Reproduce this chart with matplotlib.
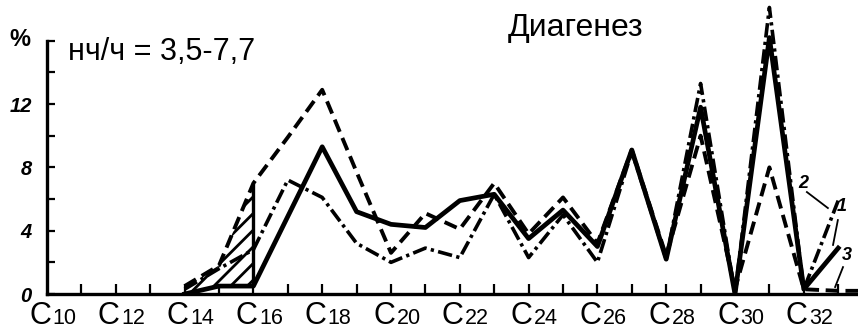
import matplotlib
matplotlib.use("Agg")
import matplotlib.pyplot as plt
import numpy as np

# ---- data ----
carbons = list(range(14, 34))            # C14 .. C33
solid_1 = [0.0, 0.5, 0.5, 4.9, 9.3, 5.2, 4.4, 4.2, 5.9, 6.3,
           3.5, 5.3, 3.0, 9.1, 2.2, 11.8, 0.0, 16.2, 0.3, 2.9]
dashdot_2 = [0.3, 1.6, 2.8, 7.2, 6.1, 3.2, 2.0, 2.9, 2.3, 6.3,
             2.3, 5.0, 2.0, 9.0, 2.2, 13.3, 0.0, 18.1, 0.3, 5.9]
carbons_3 = list(range(14, 35))          # C14 .. C34
dashed_3 = [0.5, 1.8, 7.0, 9.9, 12.9, 7.7, 2.6, 5.1, 4.1, 7.0,
            3.8, 6.1, 3.2, 9.1, 2.4, 10.0, 0.3, 8.0, 0.3, 0.2, 0.2]

hatch_carbons = [14, 15, 16]
label_carbons = list(range(10, 33, 2))   # C10 .. C32
ytick_major = [0, 4, 8, 12, 16]
ytick_labels = ["0", "4", "8", "12", ""]
ytick_minor = [2, 6, 10, 14]
series_names = ["1", "2", "3"]

title_text = "нч/ч = 3,5-7,7"
stage_text = "Диагенез"
unit_text = "%"

plt.rcParams["hatch.linewidth"] = 2.0

# ---- figure ----
W, H = 858, 330
fig = plt.figure(figsize=(W / 100, H / 100), dpi=100)
x0px, y0px = 47, 294
ax = fig.add_axes([x0px / W, (H - y0px) / H, (W - x0px) / W, y0px / H])
ax.set_xlim(10, 10 + (W - x0px) / 34.4)
ax.set_ylim(0, y0px / 15.83)

# hatched region between dashed and solid at C14..C16
hx = np.array(hatch_carbons)
h_top = np.array(dashed_3[:3])
h_bot = np.array(solid_1[:3])
ax.fill_between(hx, h_bot, h_top, facecolor="none", edgecolor="black",
                hatch="//", linewidth=0, zorder=1)
ax.vlines(hatch_carbons[-1], solid_1[2], dashed_3[2], color="black", lw=2.4, zorder=3)

ax.plot(carbons_3, dashed_3, color="black", lw=2.8, dashes=(3.4, 1.7),
        dash_capstyle="butt", zorder=2)
ax.plot(carbons, dashdot_2, color="black", lw=2.6, dashes=(4.0, 1.2, 0.9, 1.2),
        zorder=3)
ax.plot(carbons, solid_1, color="black", lw=3.4, zorder=4)

# ---- axes styling ----
for s in ["top", "right"]:
    ax.spines[s].set_visible(False)
ax.spines["left"].set_linewidth(2.4)
ax.spines["bottom"].set_linewidth(2.4)
ax.spines["left"].set_bounds(0, 16)

ax.set_yticks(ytick_major)
ax.set_yticklabels(ytick_labels)
ax.set_yticks(ytick_minor, minor=True)
ax.tick_params(axis="y", which="both", direction="in", length=6, width=1.6, pad=11)
for lab in ax.get_yticklabels():
    lab.set_fontfamily("Liberation Sans")
    lab.set_fontweight("bold")
    lab.set_fontstyle("italic")
    lab.set_fontsize(14.5)

ax.set_xticks(range(11, 34))
ax.set_xticklabels([])
ax.tick_params(axis="x", which="both", direction="in", length=7, width=1.6)

# x labels: big C + smaller digits
for n in label_carbons:
    ax.annotate("C", xy=(n, 0), xycoords=("data", "axes fraction"),
                xytext=(-5.0, -21.5), textcoords="offset points",
                ha="center", va="baseline", fontsize=22,
                family="Liberation Sans", annotation_clip=False)
    ax.annotate(str(n), xy=(n, 0), xycoords=("data", "axes fraction"),
                xytext=(4.0, -21.5), textcoords="offset points",
                ha="left", va="baseline", fontsize=15.5,
                family="Liberation Sans", annotation_clip=False)

# texts
fig.text(68 / W, 1 - 60 / H, title_text, fontsize=22, family="Liberation Sans",
         ha="left", va="baseline")
fig.text(508 / W, 1 - 36 / H, stage_text, fontsize=23, family="Liberation Sans",
         ha="left", va="baseline")
fig.text(20 / W, 1 - 40 / H, unit_text, fontsize=17, fontweight="bold",
         family="Liberation Sans", ha="center", va="center")

# series number labels with leader lines
lab_pos = {"2": ((31.98, 7.0), (32.09, 6.44), (32.70, 5.43)),
           "1": ((33.11, 5.5), (32.99, 4.67), (32.85, 3.1)),
           "3": ((33.26, 2.46), (33.14, 1.7), (32.91, 0.44))}
for name in series_names:
    (tx, ty), (ax1, ay1), (ax2, ay2) = lab_pos[name]
    ax.text(tx, ty, name, fontsize=13, fontweight="bold", fontstyle="italic",
            family="Liberation Sans", ha="center", va="center")
    ax.plot([ax1, ax2], [ay1, ay2], color="black", lw=1.3, clip_on=False)

fig.savefig("out.png", dpi=100)
